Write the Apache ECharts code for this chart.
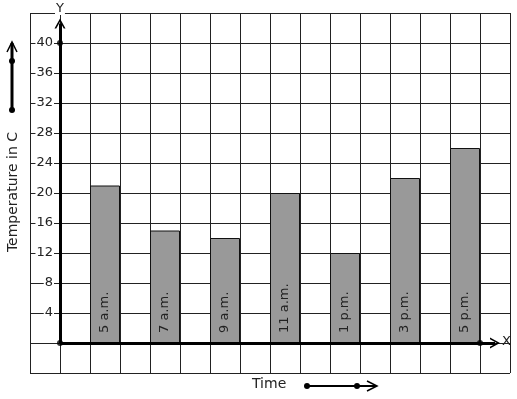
<!DOCTYPE html>
<html>
<head>
<meta charset="utf-8">
<script src="https://cdn.jsdelivr.net/npm/echarts@6/dist/echarts.min.js"></script>
<style>
  html, body { margin: 0; padding: 0; background: #fff; }
  #chart { width: 517px; height: 399px; }
</style>
</head>
<body>
<div id="chart"></div>
<script>
// data
const times = ['5 a.m.', '7 a.m.', '9 a.m.', '11 a.m.', '1 p.m.', '3 p.m.', '5 p.m.']
const temperatures = [21, 15, 14, 20, 12, 22, 26]
// bar centres on the grid (in cells from the origin)
const barCentres = [1.5, 3.5, 5.5, 7.5, 9.5, 11.5, 13.5]
const yTicks = [4, 8, 12, 16, 20, 24, 28, 32, 36, 40]

const ink = '#222'
const font = 'DejaVu Sans'
// open chevron, points up by default
const chevron = 'path://M0,10 L5,0 L10,10 L8.4,10 L5,3.2 L1.6,10 Z'

const chart = echarts.init(document.getElementById('chart'))

chart.setOption({
  animation: false,
  grid: { left: 30, top: 13, width: 480, height: 360 },
  xAxis: {
    type: 'value',
    min: -1,
    max: 15,
    interval: 1,
    axisLine: { show: false },
    axisTick: { show: false },
    axisLabel: { show: false },
    splitLine: { lineStyle: { color: ink, width: 1 } }
  },
  yAxis: {
    type: 'value',
    min: -4,
    max: 44,
    interval: 4,
    offset: -30,
    axisLine: { show: false },
    axisTick: { show: false },
    splitLine: { lineStyle: { color: ink, width: 1 } },
    axisLabel: {
      customValues: yTicks,
      margin: 6,
      color: ink,
      fontFamily: font,
      fontSize: 13,
      backgroundColor: '#fff',
      padding: [0, 1, 0, 1]
    }
  },
  series: [
    {
      type: 'bar',
      barWidth: 30,
      data: temperatures.map((t, i) => [barCentres[i], t]),
      itemStyle: { color: '#999', borderColor: '#111', borderWidth: 1 },
      label: {
        show: true,
        position: 'insideBottom',
        rotate: 90,
        align: 'left',
        verticalAlign: 'middle',
        distance: 10,
        color: ink,
        fontFamily: font,
        fontSize: 13,
        formatter: (p) => times[p.dataIndex]
      },
      z: 3
    },
    // axes drawn from the origin with open arrow heads
    {
      type: 'line',
      data: [],
      markLine: {
        silent: true,
        symbol: ['none', chevron],
        symbolSize: [11, 10],
        label: { show: false },
        lineStyle: { color: '#000', width: 3, type: 'solid' },
        data: [
          [{ coord: [0, 0] }, { coord: [0, 42.6] }],
          [{ coord: [0, 0] }, { coord: [14.5, 0] }]
        ]
      },
      z: 4
    },
    {
      type: 'scatter',
      symbolSize: 6,
      itemStyle: { color: '#000' },
      data: [[0, 0], [0, 40], [14, 0]],
      z: 5
    }
  ],
  graphic: [
    {
      type: 'text', left: 55, top: 2, z: 10,
      style: { text: 'Y', font: '13px DejaVu Sans', fill: ink, backgroundColor: '#fff', padding: [0, 1] }
    },
    {
      type: 'text', left: 502, top: 335, z: 10,
      style: { text: 'X', font: '13px DejaVu Sans', fill: ink }
    },
    {
      type: 'text', left: 252, top: 377, z: 10,
      style: { text: 'Time', font: '14px DejaVu Sans', fill: ink }
    },
    {
      type: 'text', x: 13, y: 192, rotation: Math.PI / 2, z: 10,
      style: { text: 'Temperature in C', font: '14px DejaVu Sans', fill: ink, align: 'center', verticalAlign: 'middle' }
    },
    // decorative arrow beside the y title
    { type: 'line', z: 10, shape: { x1: 12, y1: 110, x2: 12, y2: 43 }, style: { stroke: '#000', lineWidth: 3 } },
    { type: 'polyline', z: 10, shape: { points: [[7, 52], [12, 42], [17, 52]] }, style: { stroke: '#000', lineWidth: 1.5, fill: null } },
    { type: 'circle', z: 10, shape: { cx: 12, cy: 110, r: 3 }, style: { fill: '#000' } },
    { type: 'circle', z: 10, shape: { cx: 12, cy: 61, r: 3 }, style: { fill: '#000' } },
    // decorative arrow beside the x title
    { type: 'line', z: 10, shape: { x1: 307, y1: 386, x2: 376, y2: 386 }, style: { stroke: '#000', lineWidth: 2 } },
    { type: 'polyline', z: 10, shape: { points: [[367, 381], [377, 386], [367, 391]] }, style: { stroke: '#000', lineWidth: 1.5, fill: null } },
    { type: 'circle', z: 10, shape: { cx: 307, cy: 386, r: 3 }, style: { fill: '#000' } },
    { type: 'circle', z: 10, shape: { cx: 357, cy: 386, r: 3 }, style: { fill: '#000' } }
  ]
})

window.addEventListener('resize', () => chart.resize())
</script>
</body>
</html>
